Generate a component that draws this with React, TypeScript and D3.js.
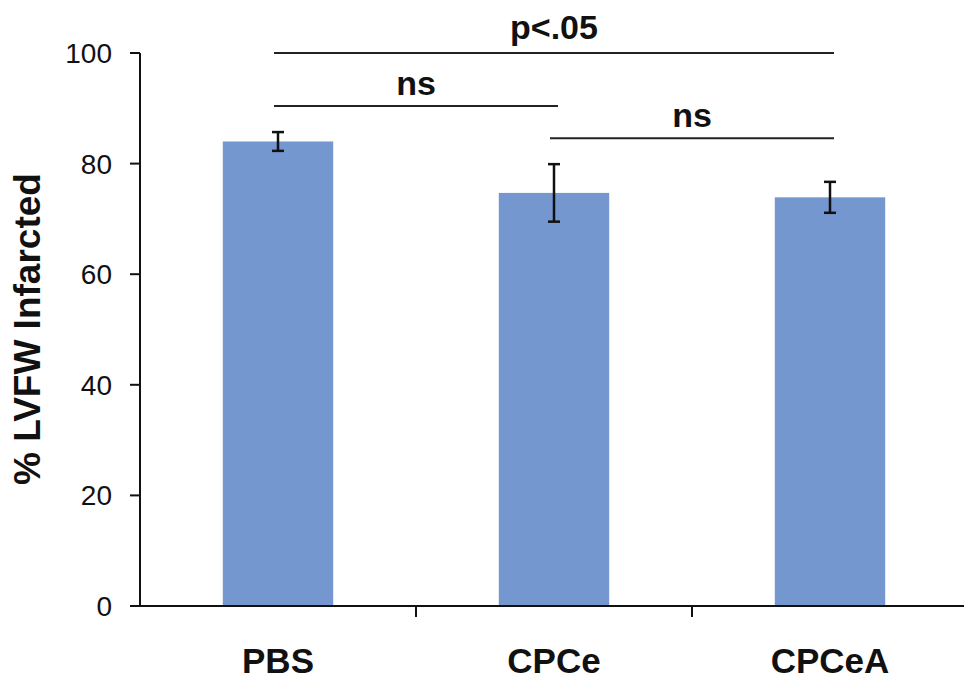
import { scaleBand, scaleLinear } from "d3";

const WIDTH = 964;
const HEIGHT = 682;
const MARGIN = { top: 53, right: -4, bottom: 76, left: 140 };

const categories = ["PBS", "CPCe", "CPCeA"];
const means = [84, 74.7, 73.9];
const errors = [1.7, 5.2, 2.8];
const yTicks = [0, 20, 40, 60, 80, 100];
const yLabel = "% LVFW Infarcted";

// significance brackets: from / to category index, height in data units, label
const bracketFrom = [0, 0, 1];
const bracketTo = [2, 1, 2];
const bracketLevel = [100, 90.4, 84.6];
const bracketLabels = ["p<.05", "ns", "ns"];

const FONT = "'Liberation Sans', Arial, Helvetica, sans-serif";
const BAR_COLOR = "#7597cf";

export default function App() {
  const innerBottom = HEIGHT - MARGIN.bottom;
  const x = scaleBand<string>()
    .domain(categories)
    .range([MARGIN.left, WIDTH - MARGIN.right])
    .paddingInner(0)
    .paddingOuter(0);
  const y = scaleLinear().domain([0, 100]).range([innerBottom, MARGIN.top]);
  const barWidth = x.bandwidth() * 0.4;
  const center = (i: number) => (x(categories[i]) ?? 0) + x.bandwidth() / 2;

  return (
    <svg
      width={WIDTH}
      height={HEIGHT}
      viewBox={`0 0 ${WIDTH} ${HEIGHT}`}
      style={{ position: "absolute", left: 0, top: 0, background: "#fff" }}
      fontFamily={FONT}
    >
      {/* bars */}
      {categories.map((c, i) => (
        <rect
          key={c}
          x={center(i) - barWidth / 2}
          y={y(means[i])}
          width={barWidth}
          height={y(0) - y(means[i])}
          fill={BAR_COLOR}
        />
      ))}

      {/* error bars */}
      {categories.map((c, i) => {
        const cx = center(i);
        const hi = y(means[i] + errors[i]);
        const lo = y(means[i] - errors[i]);
        return (
          <g key={c} stroke="#111" strokeWidth={2.5}>
            <line x1={cx} x2={cx} y1={hi} y2={lo} />
            <line x1={cx - 6} x2={cx + 6} y1={hi} y2={hi} />
            <line x1={cx - 6} x2={cx + 6} y1={lo} y2={lo} />
          </g>
        );
      })}

      {/* y axis */}
      <line x1={MARGIN.left} x2={MARGIN.left} y1={y(100)} y2={innerBottom} stroke="#111" strokeWidth={2} />
      {yTicks.map((t) => (
        <g key={t}>
          <line x1={MARGIN.left - 10} x2={MARGIN.left} y1={y(t)} y2={y(t)} stroke="#111" strokeWidth={2} />
          <text x={MARGIN.left - 28} y={y(t)} dy="0.36em" textAnchor="end" fontSize={28} fill="#111">
            {t}
          </text>
        </g>
      ))}
      <text
        transform={`translate(40, 329) rotate(-90)`}
        textAnchor="middle"
        fontSize={37}
        fontWeight="bold"
        fill="#111"
      >
        {yLabel}
      </text>

      {/* x axis */}
      <line x1={MARGIN.left} x2={WIDTH - MARGIN.right} y1={innerBottom} y2={innerBottom} stroke="#111" strokeWidth={2} />
      {categories.map((c, i) =>
        i === 0 ? null : (
          <line
            key={c}
            x1={x(c) ?? 0}
            x2={x(c) ?? 0}
            y1={innerBottom}
            y2={innerBottom + 11}
            stroke="#111"
            strokeWidth={2}
          />
        )
      )}
      {categories.map((c, i) => (
        <text key={c} x={center(i)} y={673} textAnchor="middle" fontSize={35} fontWeight="bold" fill="#111">
          {c}
        </text>
      ))}

      {/* significance brackets */}
      {bracketLabels.map((label, k) => {
        const x1 = center(bracketFrom[k]) - 4;
        const x2 = center(bracketTo[k]) + 4;
        const by = y(bracketLevel[k]);
        return (
          <g key={k}>
            <line x1={x1} x2={x2} y1={by} y2={by} stroke="#222" strokeWidth={2} />
            <text
              x={(x1 + x2) / 2}
              y={by - (k === 0 ? 14 : 11)}
              textAnchor="middle"
              fontSize={34}
              fontWeight="bold"
              fill="#111"
            >
              {label}
            </text>
          </g>
        );
      })}
    </svg>
  );
}
